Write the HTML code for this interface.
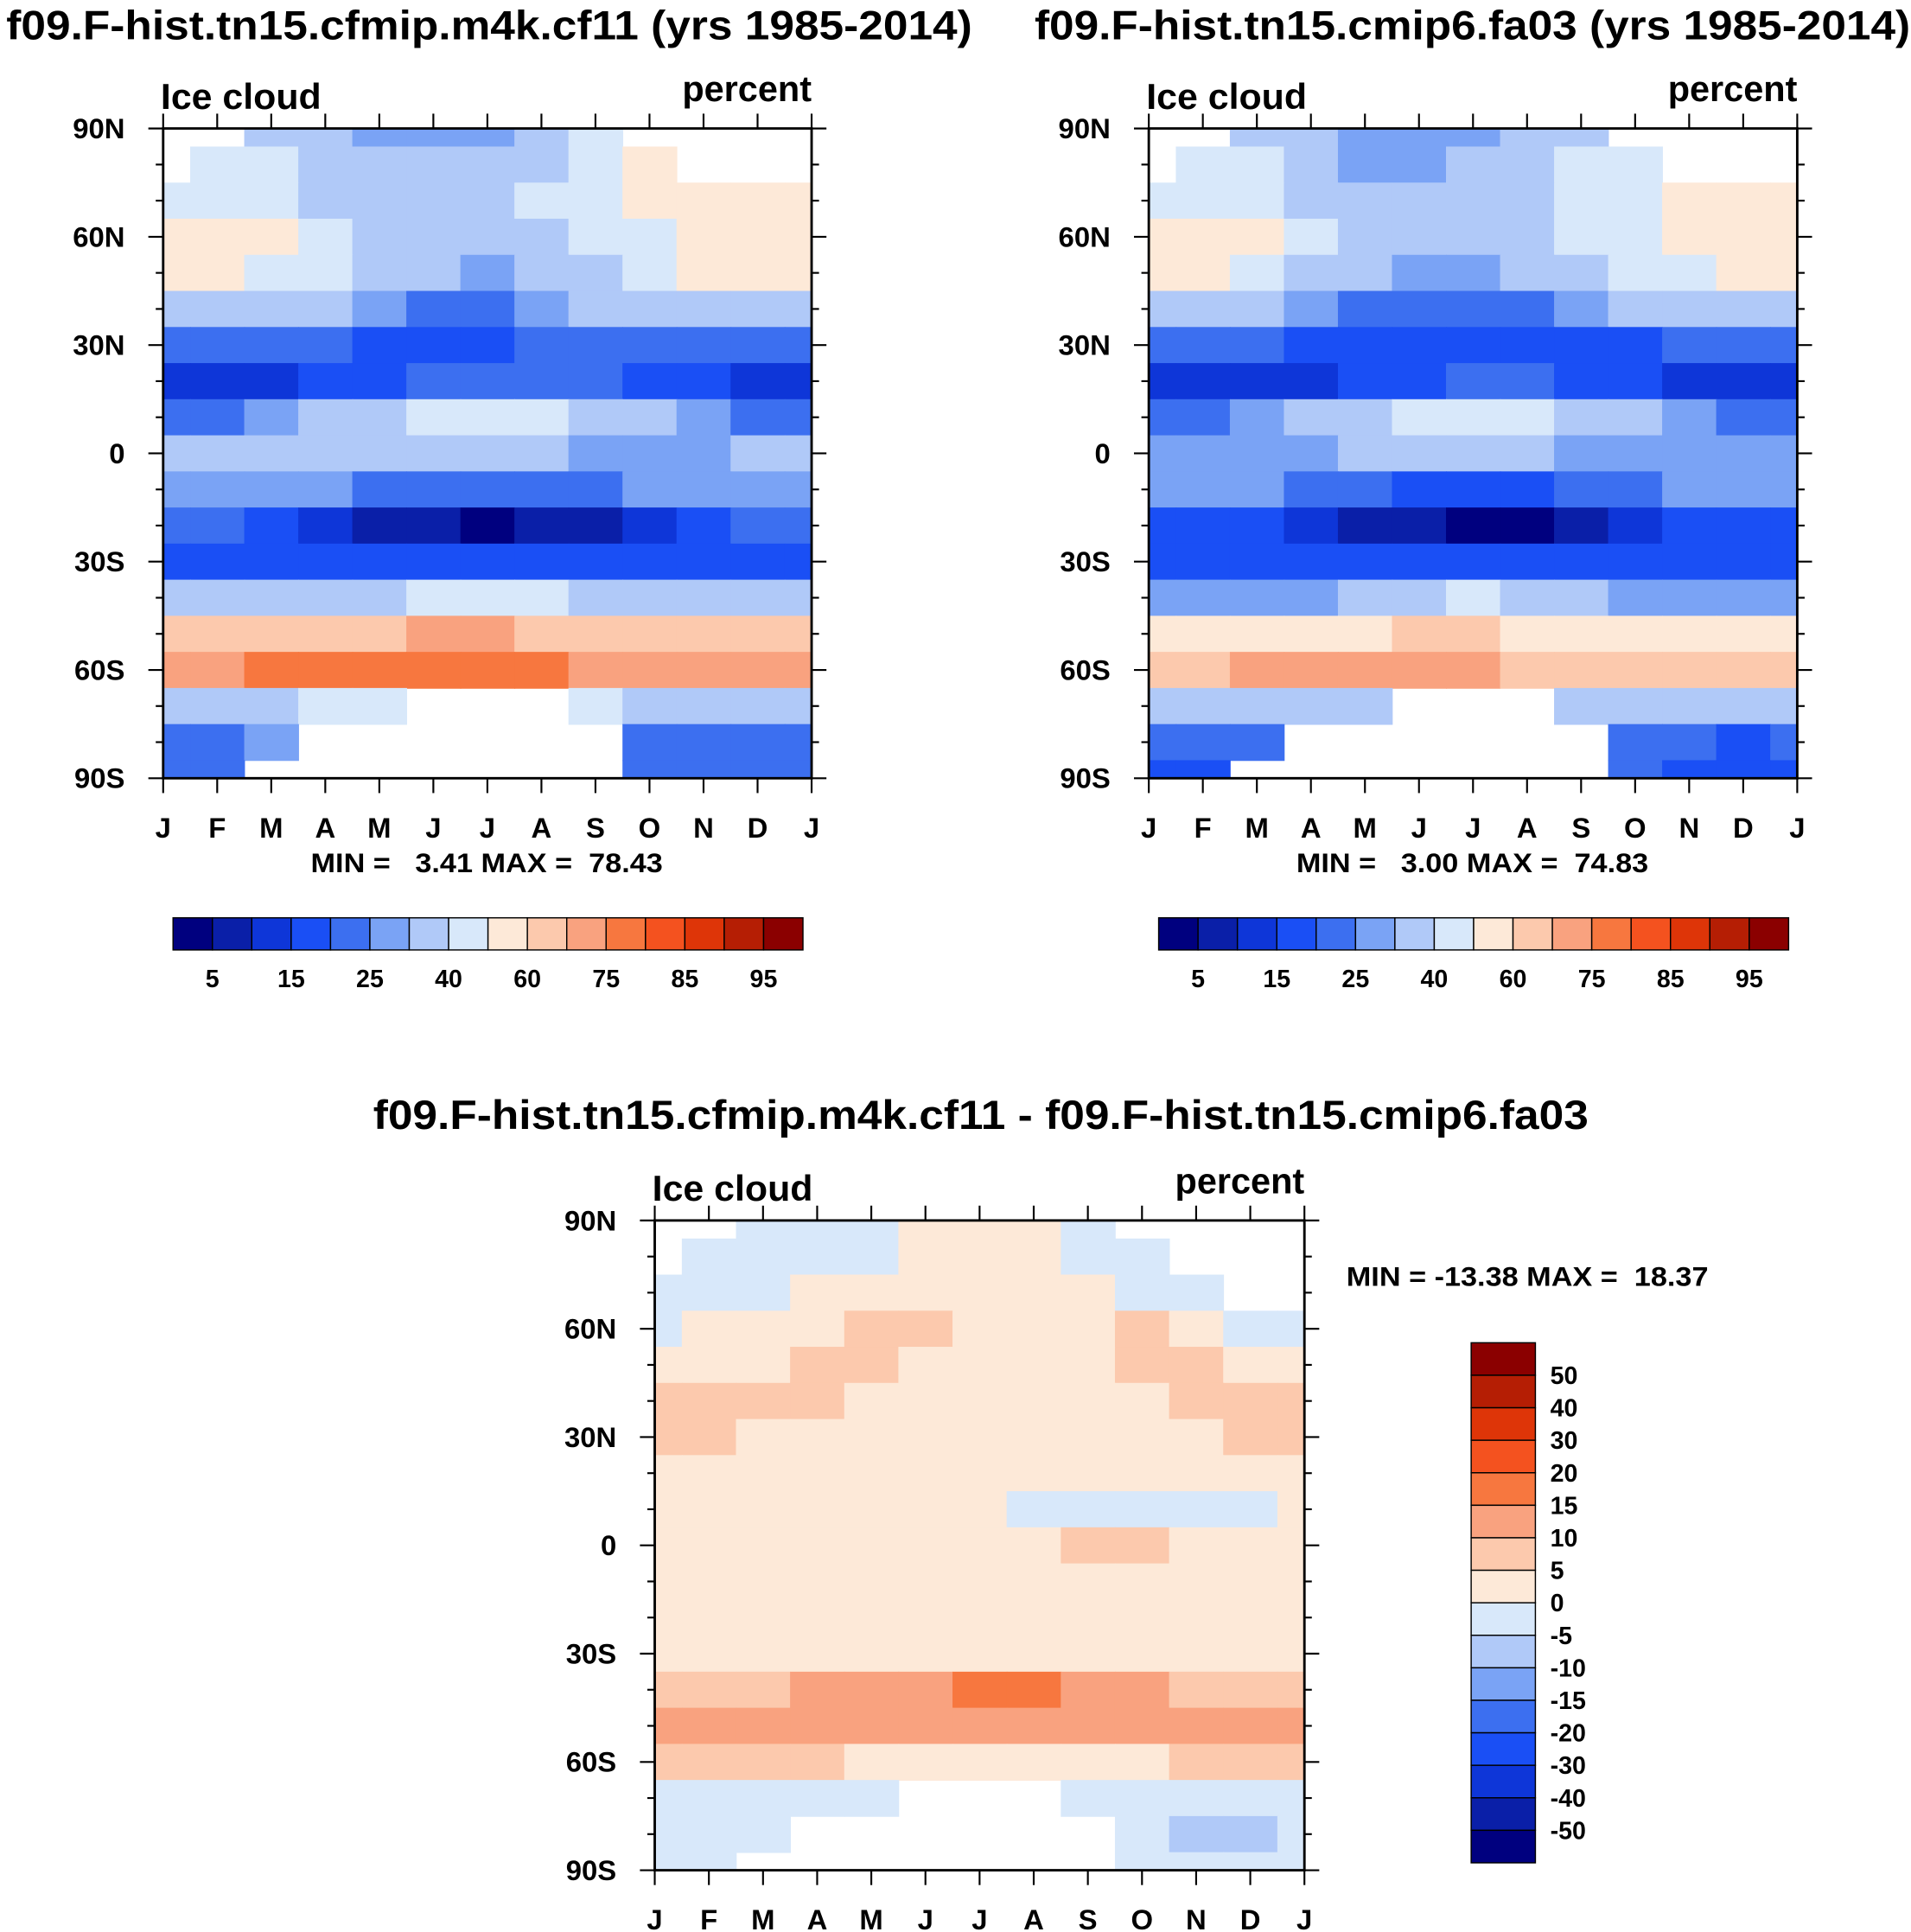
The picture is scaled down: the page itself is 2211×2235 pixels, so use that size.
<!DOCTYPE html>
<html><head><meta charset="utf-8">
<style>
html,body{margin:0;padding:0;background:#fff;}
svg{display:block;font-family:"Liberation Sans",Arial,sans-serif;font-weight:bold;}
text{white-space:pre;}
</style></head>
<body>
<svg id="fig" xmlns="http://www.w3.org/2000/svg" width="2211" height="2235" viewBox="0 0 1547 1564">
<rect width="1547" height="1564" fill="#fff"/>
</svg>
<script>
const months = ["J","F","M","A","M","J","J","A","S","O","N","D","J"];
const lats = [90,80,70,60,50,40,30,20,10,0,-10,-20,-30,-40,-50,-60,-70,-80,-90];
const latLabels = ["90N","60N","30N","0","30S","60S","90S"];
const latTicks = [90,60,30,0,-30,-60,-90];
const colors = ["#00007f","#0a1fa8","#0e36d8","#1a4ff5","#3c6ff0","#7aa3f5","#b0c9f8","#d8e8fa","#fde9d8","#fcc9ad","#f9a27f","#f7773f","#f4521f","#de3508","#b51e04","#8b0000"];
const levelsAbs = [5,10,15,20,25,30,40,50,60,70,75,80,85,90,95];
const levelsAbsLabels = ["5","15","25","40","60","75","85","95"];
const levelsDiff = [-50,-40,-30,-20,-15,-10,-5,0,5,10,15,20,30,40,50];
const levelsDiffLabels = ["50","40","30","20","15","10","5","0","-5","-10","-15","-20","-30","-40","-50"];
const N = null;
const valuesA = [
[N,N,38,33,28,28,28,35,40,N,N,N,N],
[N,45,42,35,30,30,32,38,45,52,N,N,N],
[45,45,42,35,33,33,33,40,45,50,55,55,55],
[55,55,52,42,35,33,33,38,42,48,55,55,55],
[55,55,48,40,33,30,28,32,38,45,50,55,55],
[38,38,35,30,25,22,22,25,30,35,38,38,38],
[22,22,22,20,18,17,18,20,20,22,22,22,22],
[12,12,13,15,17,20,22,22,20,18,15,12,12],
[22,22,25,30,38,45,45,42,38,30,25,22,22],
[30,30,30,30,32,33,33,32,28,25,28,30,30],
[28,28,27,25,22,20,20,20,22,25,27,28,28],
[20,20,17,14,9,6,4,5,9,14,18,20,20],
[17,17,17,18,18,18,18,18,18,18,17,17,17],
[32,30,30,32,36,42,45,42,36,32,30,30,32],
[62,60,62,64,66,70,70,68,62,60,60,60,62],
[72,74,77,77,77,77,78,76,72,70,70,70,72],
[35,35,38,40,42,N,N,N,40,38,36,35,35],
[22,22,25,N,N,N,N,N,N,22,22,20,22],
[20,20,N,N,N,N,N,N,N,22,20,20,20]];
const valuesB = [
[N,N,35,32,27,26,26,32,38,N,N,N,N],
[N,42,40,33,28,28,30,36,42,48,N,N,N],
[45,45,42,35,30,30,30,36,42,48,52,52,52],
[55,55,52,40,33,30,30,34,40,46,52,55,55],
[50,50,45,38,30,28,26,30,35,42,46,50,50],
[35,35,32,28,22,20,20,22,26,30,34,35,35],
[20,20,20,18,16,15,16,17,18,18,20,20,20],
[12,12,12,14,16,18,20,20,18,16,13,12,12],
[22,22,25,30,36,42,44,40,36,30,25,22,22],
[28,28,28,28,30,32,32,30,28,25,27,28,28],
[26,26,25,23,20,18,18,18,20,23,25,26,26],
[18,18,15,12,8,5,3,4,8,12,16,18,18],
[17,17,17,17,17,17,17,17,17,17,17,17,17],
[26,25,25,28,32,38,40,38,32,28,25,25,26],
[52,52,54,56,58,60,60,58,55,52,52,52,52],
[65,66,70,70,70,70,71,68,65,63,63,63,65],
[32,32,35,36,38,N,N,N,36,34,32,32,32],
[20,20,22,N,N,N,N,N,N,20,20,18,20],
[18,18,N,N,N,N,N,N,N,20,18,18,18]];
const valuesD = [
[N,N,-2,-2,-2,2,2,2,-2,N,N,N,N],
[N,-2,-2,-2,-2,2,2,2,-2,-2,N,N,N],
[-2,-2,-2,2,2,2,2,2,2,-2,-2,N,N],
[-2,2,2,2,7,7,2,2,2,7,2,-2,-2],
[2,2,2,7,7,2,2,2,2,7,7,2,2],
[7,7,7,7,2,2,2,2,2,2,7,7,7],
[7,7,2,2,2,2,2,2,2,2,2,7,7],
[2,2,2,2,2,2,2,2,2,2,2,2,2],
[2,2,2,2,2,2,2,-2,-2,-2,-2,-2,2],
[2,2,2,2,2,2,2,2,7,7,2,2,2],
[2,2,2,2,2,2,2,2,2,2,2,2,2],
[2,2,2,2,2,2,2,2,2,2,2,2,2],
[2,2,2,2,2,2,2,2,2,2,2,2,2],
[7,7,7,10,10,12,17,17,12,10,7,7,7],
[12,12,12,12,12,12,12,12,12,12,12,12,12],
[7,7,7,7,2,2,2,2,2,2,7,7,7],
[-2,-2,-2,-2,-2,N,N,N,-2,-2,-2,-2,-2],
[-2,-2,-2,N,N,N,N,N,N,-2,-7,-7,-2],
[-2,-2,N,N,N,N,N,N,N,-2,-2,-2,-2]];
const titleA = "f09.F-hist.tn15.cfmip.m4k.cf11 (yrs 1985-2014)";
const titleB = "f09.F-hist.tn15.cmip6.fa03 (yrs 1985-2014)";
const titleD = "f09.F-hist.tn15.cfmip.m4k.cf11 - f09.F-hist.tn15.cmip6.fa03";
const statsA = "MIN =   3.41 MAX =  78.43";
const statsB = "MIN =   3.00 MAX =  74.83";
const statsD = "MIN = -13.38 MAX =  18.37";

const NS = "http://www.w3.org/2000/svg";
const svg = document.getElementById('fig');
function mk(tag, attrs, parent, text){
  const e = document.createElementNS(NS, tag);
  for (const k in attrs) e.setAttribute(k, attrs[k]);
  if (text !== undefined) e.textContent = text;
  (parent||svg).appendChild(e);
  return e;
}
function colorFor(v, levels){
  let i = 0; while (i < levels.length && v >= levels[i]) i++;
  return colors[i];
}
function drawPanel(id, x0, y0, w, h, vals, levels, name){
  const g = mk('g', {});
  
  
  const xs = m => x0 + m * w / 12;
  const ys = lat => y0 + (90 - lat) * h / 180;
  const cp = mk('clipPath', {id: 'clip'+id}, g);
  mk('rect', {x:x0, y:y0, width:w, height:h}, cp);
  const cells = mk('g', {'clip-path':'url(#clip'+id+')'}, g);
  for (let r = 0; r < lats.length; r++){
    for (let c = 0; c < months.length; c++){
      const v = vals[r][c];
      if (v === null) continue;
      const xa = xs(c - 0.5), xb = xs(c + 0.5);
      const ya = ys(lats[r] + 5), yb = ys(lats[r] - 5);
      const rc = mk('rect', {x:xa, y:ya, width:xb - xa + 0.6, height:yb - ya + 0.6, fill:colorFor(v, levels)}, cells);
      
      
    }
  }
  mk('rect', {x:x0, y:y0, width:w, height:h, fill:'none', stroke:'#000', 'stroke-width':2}, g);
  for (let lat = -90; lat <= 90; lat += 10){
    const y = ys(lat), major = lat % 30 === 0;
    const L = major ? 12 : 6;
    mk('line', {x1:x0 - L, x2:x0, y1:y, y2:y, stroke:'#000', 'stroke-width':1.5}, g);
    mk('line', {x1:x0 + w, x2:x0 + w + L, y1:y, y2:y, stroke:'#000', 'stroke-width':1.5}, g);
  }
  latTicks.forEach((lat, i) => {
    const t = mk('text', {x:x0 - 31, y:ys(lat) + 8, 'font-size':23, 'text-anchor':'end'}, g, latLabels[i]);
    
    
  });
  for (let m = 0; m < 13; m++){
    const x = xs(m);
    mk('line', {x1:x, x2:x, y1:y0 - 12, y2:y0, stroke:'#000', 'stroke-width':1.5}, g);
    mk('line', {x1:x, x2:x, y1:y0 + h, y2:y0 + h + 12, stroke:'#000', 'stroke-width':1.5}, g);
    const t = mk('text', {x:x, y:y0 + h + 48, 'font-size':23, 'text-anchor':'middle'}, g, months[m]);
    
    
  }
  const l = mk('text', {x:x0 - 2, y:y0 - 16, 'font-size':29, textLength:130, lengthAdjust:'spacingAndGlyphs'}, g, 'Ice cloud');
  
  
  const p = mk('text', {x:x0 + w, y:y0 - 22, 'font-size':29, 'text-anchor':'end'}, g, 'percent');
  
  
}
function text(x, y, size, anchor, s, name, len){
  const a = {x:x, y:y, 'font-size':size, 'text-anchor':anchor};
  if (len) { a.textLength = len; a.lengthAdjust = 'spacingAndGlyphs'; }
  const t = mk('text', a, svg, s);
  
  
}
function hColorbar(x0, y0, w, h, name){
  const g = mk('g', {});
  
  
  const bw = w / colors.length;
  colors.forEach((c, i) => {
    mk('rect', {x:x0 + i*bw, y:y0, width:bw, height:h, fill:c, stroke:'#000', 'stroke-width':1}, g);
  });
  levelsAbsLabels.forEach((s, i) => {
    mk('text', {x:x0 + (2*i + 1)*bw, y:y0 + h + 30, 'font-size':20, 'text-anchor':'middle'}, g, s);
  });
}
function vColorbar(x0, y0, w, h, name){
  const g = mk('g', {});
  
  
  const bh = h / colors.length;
  colors.slice().reverse().forEach((c, i) => {
    mk('rect', {x:x0, y:y0 + i*bh, width:w, height:bh, fill:c, stroke:'#000', 'stroke-width':1}, g);
  });
  levelsDiffLabels.forEach((s, i) => {
    mk('text', {x:x0 + w + 12, y:y0 + (i + 1)*bh + 7, 'font-size':20}, g, s);
  });
}
text(396, 32, 33, 'middle', titleA, 'title-left', 782);
text(1192, 32, 33, 'middle', titleB, 'title-right', 709);
drawPanel('a', 132, 104, 525, 526, valuesA, levelsAbs, 'panel-cf11');
drawPanel('b', 930, 104, 525, 526, valuesB, levelsAbs, 'panel-fa03');
text(394, 706, 22, 'middle', statsA, 'stats-left', 285);
text(1192, 706, 22, 'middle', statsB, 'stats-right', 285);
hColorbar(140, 743, 510, 26, 'colorbar-left');
hColorbar(938, 743, 510, 26, 'colorbar-right');
text(794, 914, 33, 'middle', titleD, 'title-diff', 984);
drawPanel('d', 530, 988, 526, 526, valuesD, levelsDiff, 'panel-diff');
text(1090, 1041, 22, 'start', statsD, 'stats-diff', 293);
vColorbar(1191, 1087, 52, 421, 'colorbar-diff');
</script>
</body></html>
